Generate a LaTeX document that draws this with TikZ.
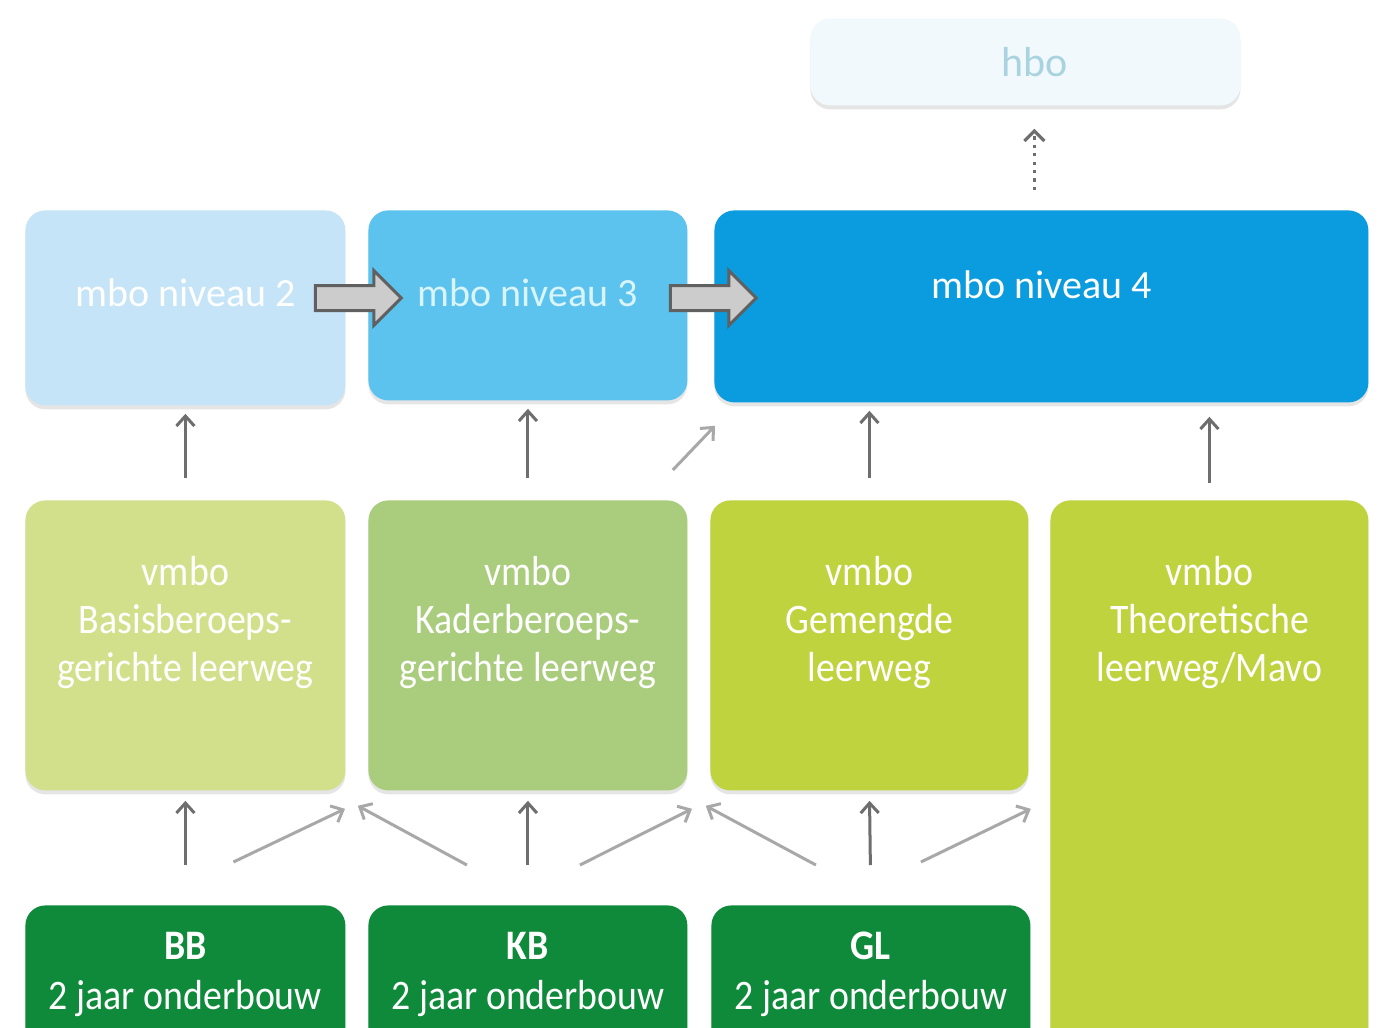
\documentclass[tikz,border=0pt]{standalone}
\usepackage{fontspec}
\setmainfont{Carlito}
\newfontfamily\narrowfont[FakeStretch=0.9]{Carlito}
\usepackage{xcolor}
\usepackage{tikz}
\usetikzlibrary{positioning,calc,arrows.meta,shapes.arrows,shadows}

\definecolor{hbofill}{HTML}{F2F9FD}
\definecolor{hbotext}{HTML}{A9D3DF}
\definecolor{mbotwo}{HTML}{C5E4F7}
\definecolor{mbothree}{HTML}{5CC2EE}
\definecolor{mbofour}{HTML}{0A9CDE}
\definecolor{vbbfill}{HTML}{D2E08C}
\definecolor{vkbfill}{HTML}{A9CC7D}
\definecolor{vglfill}{HTML}{BED33D}
\definecolor{groen}{HTML}{0F8A3B}
\definecolor{pijlvul}{HTML}{CCCCCC}
\definecolor{pijlrand}{HTML}{606060}
\definecolor{donkergrijs}{HTML}{6E6E6E}
\definecolor{lichtgrijs}{HTML}{A8A8A8}
\definecolor{mbodrie}{HTML}{D9F5FA}

\begin{document}
\begin{tikzpicture}[x=0.5pt, y=-0.5pt,
    box/.style={rounded corners=10pt, inner sep=0pt, anchor=north west,
        drop shadow={opacity=0.2, shadow xshift=0pt, shadow yshift=-2pt}},
    mbotext/.style={inner sep=0pt, font=\fontsize{20}{24}\selectfont},
    vmbotext/.style={inner sep=0pt, align=center, text=white,
        font=\narrowfont\fontsize{21}{24}\selectfont},
    groentext/.style={inner sep=0pt, align=center, text=white,
        font=\narrowfont\fontsize{21}{25}\selectfont},
    blokpijl/.style={single arrow, fill=pijlvul, draw=pijlrand, line width=1.5pt,
        minimum height=43pt, minimum width=26pt, single arrow head extend=7.5pt,
        inner sep=5.5pt},
    omhoog/.style={draw=donkergrijs, line width=1.5pt, -{Straight Barb[length=5pt, width=9pt]}},
    schuin/.style={draw=lichtgrijs, line width=1.5pt, -{Straight Barb[length=5pt, width=9pt]}}]

    \path[use as bounding box, fill=white] (0,0) rectangle (1379,1027);

    % hbo en mbo
    \node[box, fill=hbofill, minimum width=215pt, minimum height=43.5pt] (hbo) at (810,18) {};
    \node[mbotext, text=hbotext, font=\fontsize{21}{24}\selectfont] (hbo-t) at ($(hbo.center)+(9,0)$) {hbo};
    \node[box, fill=mbotwo, minimum width=160pt, minimum height=97.5pt] (mbo2) at (25,210) {};
    \node[box, fill=mbothree, minimum width=159.5pt, minimum height=95pt] (mbo3) at (368,210) {};
    \node[box, fill=mbofour, minimum width=327pt, minimum height=96pt] (mbo4) at (714,210) {};
    \node[mbotext, text=white, below=34pt of mbo2.north] (mbo2-t) {mbo niveau 2};
    \node[mbotext, text=mbodrie, below=34pt of mbo3.north] (mbo3-t) {mbo niveau 3};
    \node[mbotext, text=white, below=30pt of mbo4.north] (mbo4-t) {mbo niveau 4};

    % vmbo
    \node[box, fill=vbbfill, minimum width=160pt, minimum height=145pt] (vbb) at (25,500) {};
    \node[box, fill=vkbfill, minimum width=159.5pt, minimum height=145pt] (vkb) at (368,500) {};
    \node[box, fill=vglfill, minimum width=159pt, minimum height=145pt] (vgl) at (710,500) {};
    \node[box, fill=vglfill, minimum width=159pt, minimum height=280pt] (vtl) at (1050,500) {};
    \node[vmbotext, below=28pt of vbb.north] (vbb-t) {vmbo\\Basisberoeps-\\gerichte leerweg};
    \node[vmbotext, below=28pt of vkb.north] (vkb-t) {vmbo\\Kaderberoeps-\\gerichte leerweg};
    \node[vmbotext, below=28pt of vgl.north] (vgl-t) {vmbo\\Gemengde\\leerweg};
    \node[vmbotext, below=28pt of vtl.north] (vtl-t) {vmbo\\Theoretische\\leerweg/Mavo};

    % onderbouw
    \node[box, fill=groen, minimum width=160pt, minimum height=80pt] (bb) at (25,905) {};
    \node[box, fill=groen, minimum width=159.5pt, minimum height=80pt] (kb) at (368,905) {};
    \node[box, fill=groen, minimum width=159.5pt, minimum height=80pt] (gl) at (711,905) {};
    \node[groentext, below=13.5pt of bb.north] (bb-t) {\textbf{BB}\\2 jaar onderbouw};
    \node[groentext, below=13.5pt of kb.north] (kb-t) {\textbf{KB}\\2 jaar onderbouw};
    \node[groentext, below=13.5pt of gl.north] (gl-t) {\textbf{GL}\\2 jaar onderbouw};

    % doorstroom mbo
    \node[blokpijl] (pijl23) at (352,298) {};
    \node[blokpijl] (pijl34) at (707,298) {};
    \draw[dash pattern=on 1.6pt off 2.6pt, draw=donkergrijs, line width=1.6pt,
        -{Straight Barb[length=5pt, width=10pt]}]
        ($(mbo4.north)+(-7,-20)$) -- ($(hbo.south)+(9,23)$);

    % vmbo naar mbo
    \draw[omhoog, shorten <=11pt, shorten >=4pt] (vbb.north) -- (mbo2.south);
    \draw[omhoog, shorten <=11pt, shorten >=4pt] (vkb.north) -- (mbo3.south);
    \draw[omhoog, shorten <=11pt, shorten >=4pt] (vgl.north) -- (vgl.north |- mbo4.south);
    \draw[omhoog, shorten <=8.5pt, shorten >=7pt] (vtl.north) -- (vtl.north |- mbo4.south);
    \draw[schuin] ($(vkb.north east)+(-15,-30)$) -- ($(mbo4.south west)+(1,23)$);

    % onderbouw naar vmbo
    \draw[omhoog, shorten <=20pt, shorten >=5pt] (bb.north) -- (vbb.south);
    \draw[omhoog, shorten <=20pt, shorten >=5pt] (kb.north) -- (vkb.south);
    \draw[omhoog, shorten <=20pt, shorten >=5pt] (gl.north) -- (vgl.south);
    \draw[schuin] ($(bb.north)+(48,-43)$) -- ($(vkb.south west)+(-23,18)$);
    \draw[schuin] ($(kb.north)+(-61,-40)$) -- ($(vbb.south east)+(12,15)$);
    \draw[schuin] ($(kb.north)+(52,-40)$) -- ($(vgl.south west)+(-18,18)$);
    \draw[schuin] ($(gl.north)+(-55,-40)$) -- ($(vkb.south east)+(18,15)$);
    \draw[schuin] ($(gl.north)+(50,-43)$) -- ($(vgl.south east)+(2,18)$);
\end{tikzpicture}
\end{document}
